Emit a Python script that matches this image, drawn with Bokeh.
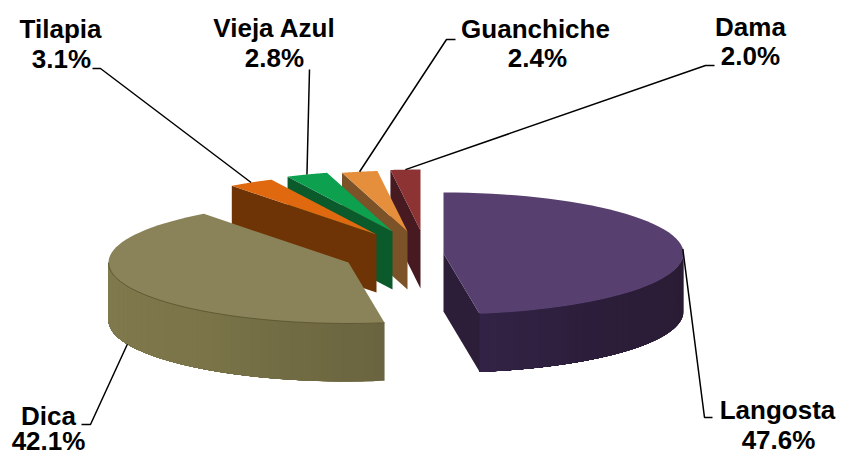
import numpy as np
from bokeh.embed import file_html
from bokeh.models import ColumnDataSource, Range1d
from bokeh.plotting import figure
from bokeh.resources import INLINE
from bokeh.core.properties import value

names = ["Langosta", "Dica", "Tilapia", "Vieja Azul", "Guanchiche", "Dama"]
shares = [47.6, 42.1, 3.1, 2.8, 2.4, 2.0]

# projection of the exploded pie, page pixels
RX, RY, DEPTH = 240, 61, 58
centres = {"Langosta": (443, 253), "Dica": (348, 262), "Tilapia": (376, 234),
           "Vieja Azul": (392, 231), "Guanchiche": (407, 231), "Dama": (420, 230)}
top_col = {"Langosta": "#57406f", "Dica": "#8a8258", "Tilapia": "#e0690f",
           "Vieja Azul": "#0ca04f", "Guanchiche": "#e58f3c", "Dama": "#8d3333"}
side_col = {"Langosta": "#2c1e39", "Dica": "#7a7349", "Tilapia": "#6e3406",
            "Vieja Azul": "#0a5a2c", "Guanchiche": "#7c5228", "Dama": "#471a22"}
wall_ramp = {"Langosta": [(0.0, (50, 35, 70)), (0.35, (44, 30, 58)), (1.0, (42, 28, 52))],
             "Dica": [(0.0, (106, 100, 64)), (0.45, (122, 116, 72)), (1.0, (128, 122, 78))]}
label_pos = {"Tilapia": (60, 36, 61, 66), "Vieja Azul": (274, 35, 274, 65),
             "Guanchiche": (535, 36, 537, 65), "Dama": (750, 34, 750, 63),
             "Dica": (48, 423, 48, 448), "Langosta": (777, 417, 778, 447)}
elbows = {"Tilapia": [(92, 68), (100, 68)], "Vieja Azul": [(309, 69)],
          "Guanchiche": [(455, 39), (446, 39)], "Dama": [(714, 65), (705, 65)],
          "Dica": [(81, 424), (90, 424)], "Langosta": [(712, 417), (704, 417)]}


def pt(c, a, dz=0.0):
    r = np.radians(a)
    return c[0] + RX * np.sin(r), c[1] - RY * np.cos(r) + dz


def hexcol(rgb):
    return "#%02x%02x%02x" % tuple(int(round(v)) for v in rgb)


def ramp(stops, t):
    ts = [s[0] for s in stops]
    return [np.interp(t, ts, [s[1][i] for s in stops]) for i in range(3)]


edges = np.concatenate([[0.0], np.cumsum(shares)]) * 3.6
spans = {n: (edges[i], edges[i + 1]) for i, n in enumerate(names)}

px, py, pc = [], [], []


def add(poly, col):
    px.append([q[0] for q in poly])
    py.append([q[1] for q in poly])
    pc.append(col)


for n in ["Dama", "Guanchiche", "Vieja Azul", "Tilapia", "Dica", "Langosta"]:
    c, (a0, a1) = centres[n], spans[n]
    # cut face seen on the left of the apex
    if n != "Dica":
        add([pt(c, a0), c, (c[0], c[1] + DEPTH), pt(c, a0, DEPTH)] if n != "Langosta"
            else [c, pt(c, a1), pt(c, a1, DEPTH), (c[0], c[1] + DEPTH)], side_col[n])
    # curved outer wall facing the viewer: each band overlaps the next one
    if n in wall_ramp:
        w0, w1 = (90.0, a1) if n == "Langosta" else (a0, 270.0)
        steps = np.linspace(w0, w1, 40)
        for j in range(len(steps) - 1):
            t = j / (len(steps) - 2)
            if n == "Langosta":
                t = 1 - t
            arc = np.linspace(steps[j], w1, 30)
            poly = [pt(c, a) for a in arc] + [pt(c, a, DEPTH) for a in arc[::-1]]
            add(poly, hexcol(ramp(wall_ramp[n], t)))
    arc = [pt(c, a) for a in np.linspace(a0, a1, 60)]
    add([c] + arc, top_col[n])

p = figure(width=842, height=454, output_backend="svg", toolbar_location=None,
           x_range=Range1d(0, 842), y_range=Range1d(454, 0), min_border=0)
p.axis.visible = False
p.grid.visible = False
p.outline_line_color = None

src = ColumnDataSource(dict(xs=px, ys=py, c=pc))
p.patches("xs", "ys", source=src, fill_color="c", line_color=None)

# rim line between the top and the wall of the big olive slice
c, (a0, a1) = centres["Dica"], spans["Dica"]
rim = [pt(c, a) for a in np.linspace(a0, 270, 50)]
p.line([q[0] for q in rim], [q[1] for q in rim], line_color="#5f5a35", line_width=1)

# leaders run from the label elbow to the slice's mid angle
for n in names:
    c, (a0, a1) = centres[n], spans[n]
    mid = (a0 + a1) / 2
    end = pt(c, mid, DEPTH if n == "Dica" else 0)
    route = elbows[n] + [end]
    p.line([q[0] for q in route], [q[1] for q in route], line_color="black", line_width=1.5)

tx, ty, tt = [], [], []
for n, v in zip(names, shares):
    x1, y1, x2, y2 = label_pos[n]
    tx += [x1, x2]
    ty += [y1, y2]
    tt += [n, "%.1f%%" % v]
p.text(tx, ty, text=tt, text_font=value("Liberation Sans"), text_font_style="bold",
       text_font_size=value("26px"), text_align="center", text_baseline="alphabetic",
       y_offset=-8, text_color="black")

open("out.html", "w").write(file_html(p, INLINE))
